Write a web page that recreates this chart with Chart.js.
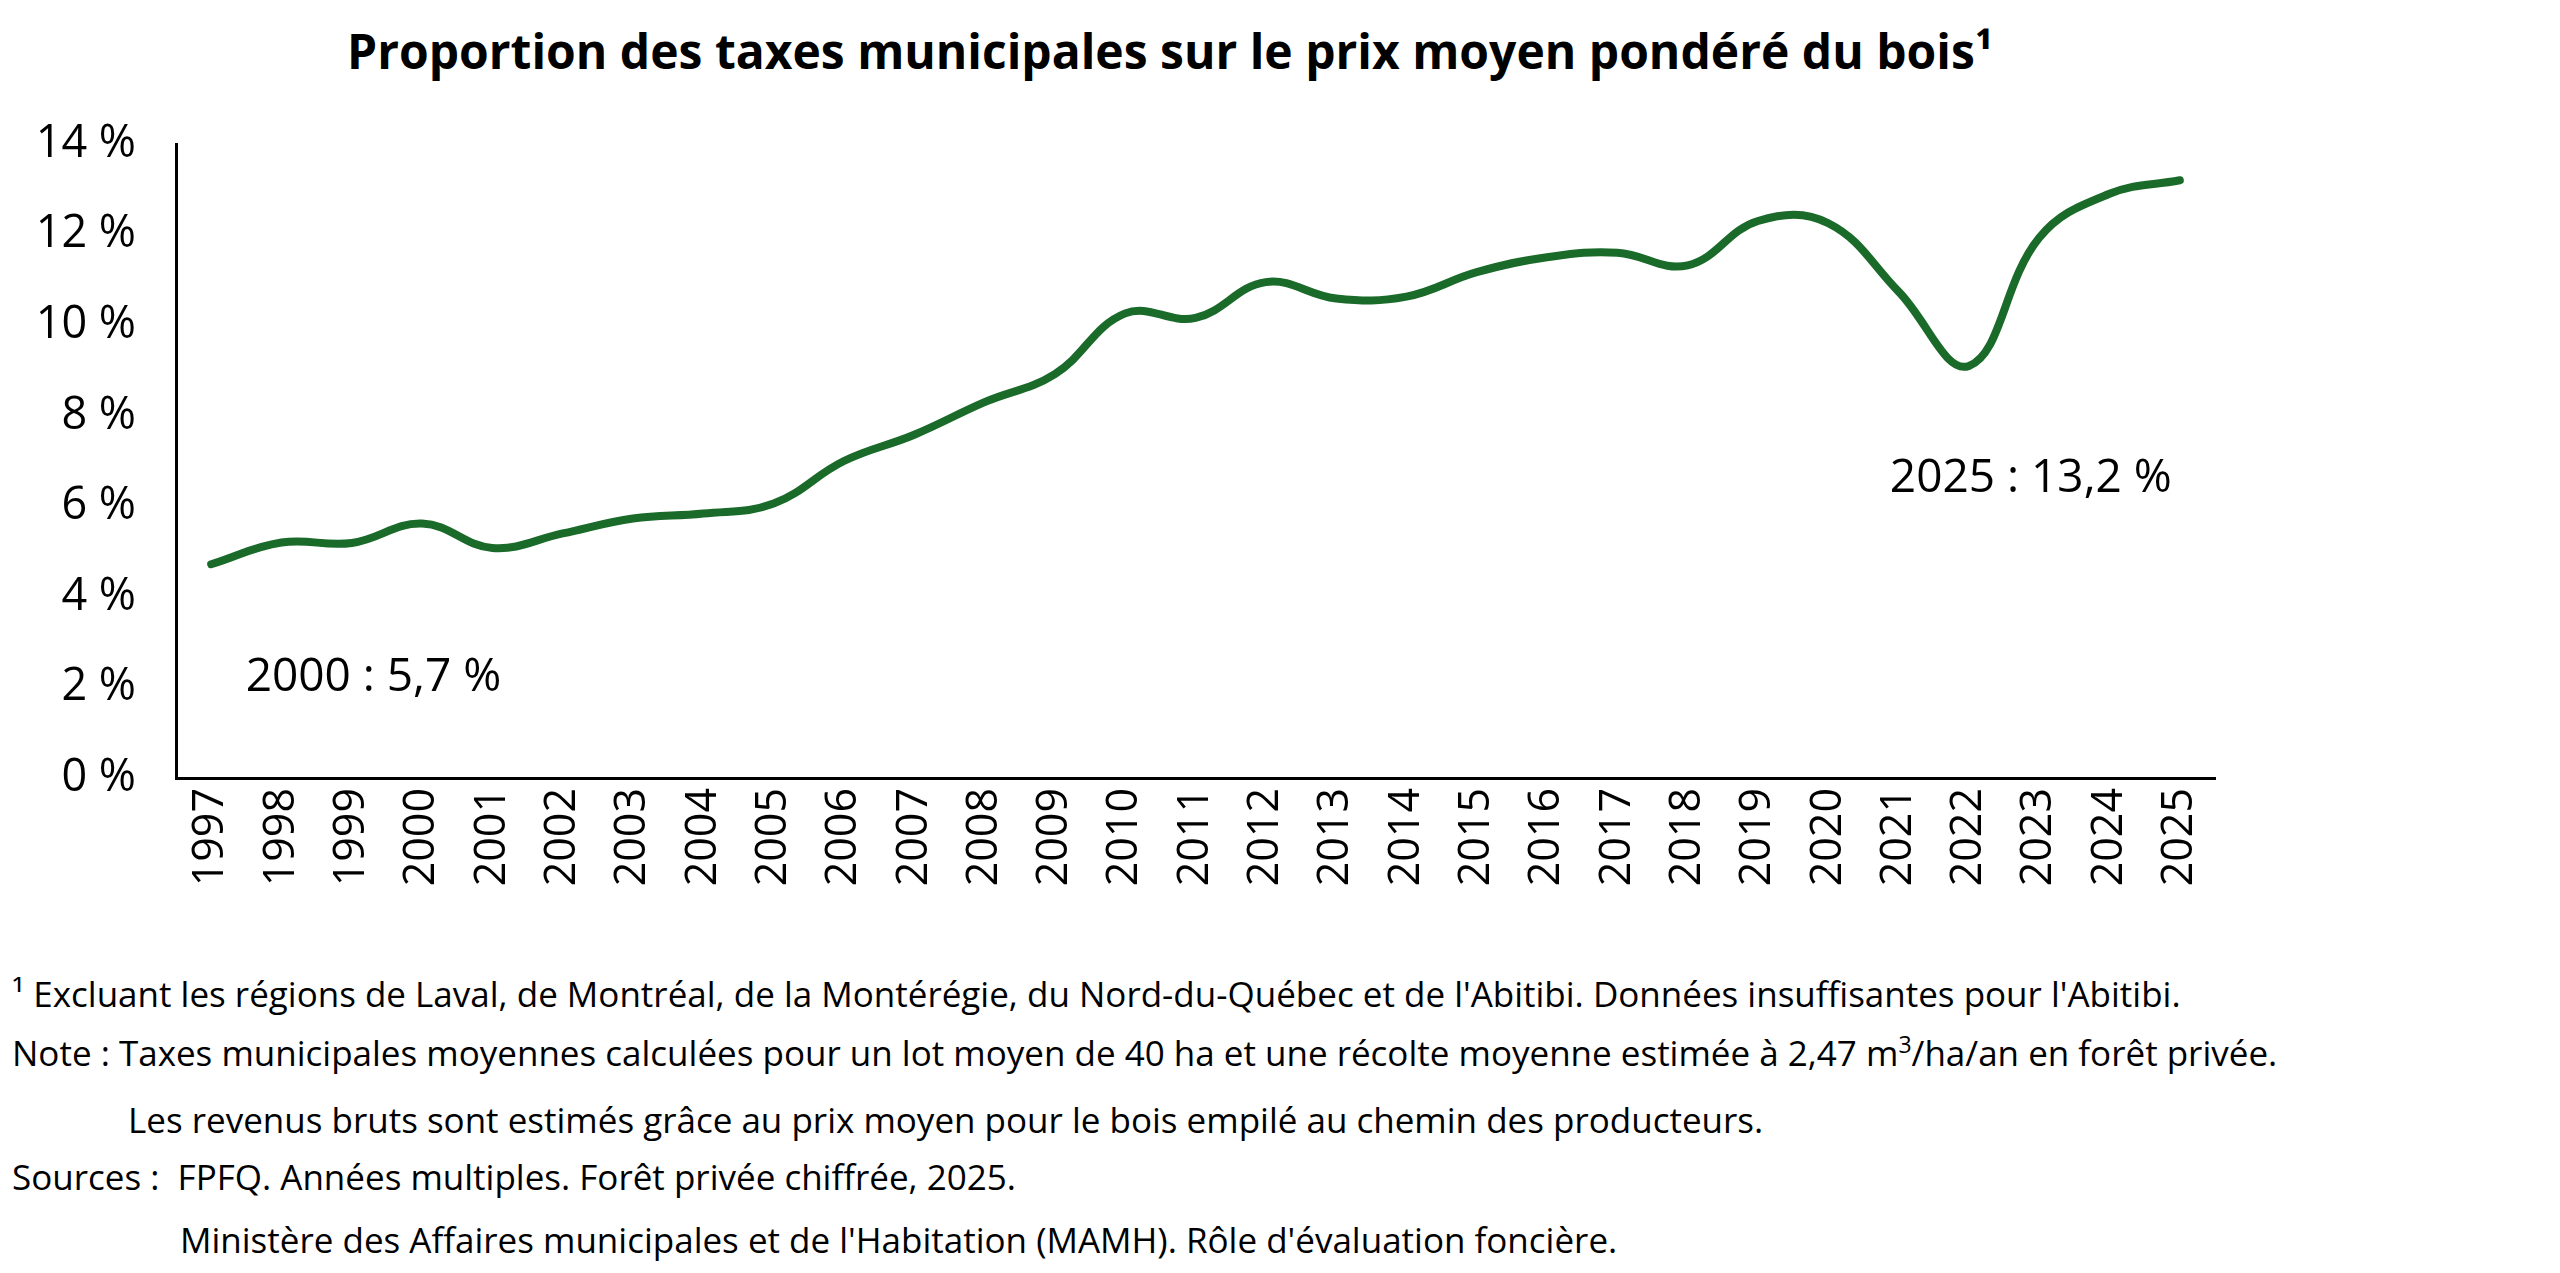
<!DOCTYPE html>
<html><head><meta charset="utf-8">
<script src="https://cdn.jsdelivr.net/npm/chart.js@4"></script>
<style>
body{margin:0;width:2560px;height:1273px;background:#fff;font-family:"Open Sans",sans-serif;color:#000;position:relative;overflow:hidden}
#title{position:absolute;top:18px;left:0;width:2340px;text-align:center;font-weight:bold;font-size:48px}
#wrap{position:absolute;left:0;top:0;width:2560px;height:900px}
.fn{position:absolute;font-size:35px;white-space:nowrap}
</style></head><body>
<div id="title">Proportion des taxes municipales sur le prix moyen pondéré du bois¹</div>
<div id="wrap"><canvas id="c" width="2560" height="900"></canvas></div>
<div class="fn" style="left:12px;top:970px">¹ Excluant les régions de Laval, de Montréal, de la Montérégie, du Nord-du-Québec et de l'Abitibi. Données insuffisantes pour l'Abitibi.</div>
<div class="fn" style="left:12px;top:1028px">Note : Taxes municipales moyennes calculées pour un lot moyen de 40 ha et une récolte moyenne estimée à 2,47 m<sup style="font-size:23px">3</sup>/ha/an en forêt privée.</div>
<div class="fn" style="left:128px;top:1096px">Les revenus bruts sont estimés grâce au prix moyen pour le bois empilé au chemin des producteurs.</div>
<div class="fn" style="left:12px;top:1153px">Sources :&nbsp; FPFQ. Années multiples. Forêt privée chiffrée, 2025.</div>
<div class="fn" style="left:180px;top:1216px">Ministère des Affaires municipales et de l'Habitation (MAMH). Rôle d'évaluation foncière.</div>
<script>
const years=["1997","1998","1999","2000","2001","2002","2003","2004","2005","2006","2007","2008","2009","2010","2011","2012","2013","2014","2015","2016","2017","2018","2019","2020","2021","2022","2023","2024","2025"];
const values=[4.72,5.2,5.19,5.62,5.08,5.4,5.73,5.84,6.06,7.0,7.58,8.3,8.92,10.26,10.16,10.95,10.59,10.63,11.17,11.5,11.6,11.32,12.3,12.25,10.74,9.1,11.93,12.9,13.2];
const yTicks=[0,2,4,6,8,10,12,14];
const notes=[{text:"2000 : 5,7 %",x:"1998",y:2.2,align:"center"},{text:"2025 : 13,2 %",x:"2025",y:6.6,align:"right"}];
const notePlugin={id:"notes",afterDatasetsDraw(ch){const c=ch.ctx,xs=ch.scales.x,ys=ch.scales.y;c.save();c.font='46px "Open Sans"';c.fillStyle="#000";c.textBaseline="middle";
notes.forEach(n=>{let px=xs.getPixelForValue(years.indexOf(n.x));if(n.align==="center")px+=92;else px-=8;c.textAlign=n.align;c.fillText(n.text,px,ys.getPixelForValue(n.y));});c.restore();}};
new Chart(document.getElementById("c"),{type:"line",
data:{labels:years,datasets:[{data:values,borderColor:"#1a6a2a",borderWidth:8,pointRadius:0,tension:0.4,fill:false,borderCapStyle:"round"}]},
options:{responsive:false,animation:false,plugins:{legend:{display:false},tooltip:{enabled:false}},
layout:{padding:{left:0,right:345,top:144,bottom:0}},
scales:{x:{offset:true,grid:{display:false,drawTicks:false},border:{color:"#000",width:3},
ticks:{color:"#000",font:{size:43,family:"Open Sans"},maxRotation:90,minRotation:90,padding:10,autoSkip:false},afterFit(s){s.height=122;}},
y:{min:0,max:14,grid:{display:false,drawTicks:false},border:{color:"#000",width:3},
afterBuildTicks(s){s.ticks=yTicks.map(v=>({value:v}));},
ticks:{color:"#000",font:{size:45,family:"Open Sans"},padding:40,callback:v=>v+" %"},afterFit(s){s.width=176;}}}},
plugins:[notePlugin]});
</script></body></html>
